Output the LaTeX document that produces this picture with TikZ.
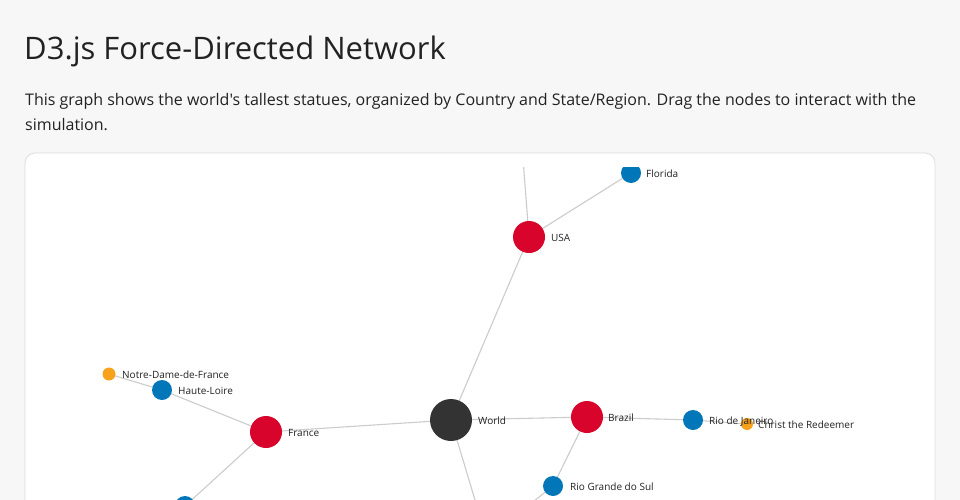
\documentclass[tikz,border=0pt]{standalone}
\usepackage{fontspec}
\setmainfont{Open Sans}[Ligatures=TeXOff]
\definecolor{bg}{HTML}{F7F7F7}
\definecolor{cardline}{HTML}{DDDDDD}
\definecolor{linkc}{HTML}{CCCCCC}
\definecolor{worldc}{HTML}{333333}
\definecolor{countryc}{HTML}{D9042B}
\definecolor{statec}{HTML}{0177BA}
\definecolor{statuec}{HTML}{F6A21A}
\definecolor{txt}{HTML}{222222}
\pgfdeclarelayer{linklayer}
\pgfsetlayers{linklayer,main}
\tikzset{
  link/.style={draw=linkc, line width=1.1pt},
  dot/.style={circle, inner sep=0pt, outer sep=0pt, draw=none},
  worldnode/.style={dot, fill=worldc, minimum size=42pt},
  countrynode/.style={dot, fill=countryc, minimum size=32pt},
  statenode/.style={dot, fill=statec, minimum size=20pt},
  statuenode/.style={dot, fill=statuec, minimum size=13pt},
  lbl/.style={anchor=base west, inner sep=0pt, text=txt, font=\fontsize{10}{12}\selectfont},
  para/.style={anchor=base west, inner sep=0pt, text=txt, font=\fontsize{16}{25}\selectfont},
}
\begin{document}
\begin{tikzpicture}[x=1pt,y=-1pt]
\useasboundingbox (0,0) rectangle (960,500);
\clip (0,0) rectangle (960,500);
\begin{pgfonlayer}{linklayer}
\fill[bg] (0,0) rectangle (960,500);
% card
\draw[cardline, fill=white, rounded corners=10pt, line width=0.8pt] (25,153) rectangle (935,540);
\end{pgfonlayer}
% title and description
\node[anchor=base west, inner sep=0pt, text=txt, font=\fontsize{31}{36}\selectfont] (title) at (24,60) {D3.js Force-Directed Network};
\node[para] (desc1) at (25,106) {This graph shows the world's tallest statues, organized by Country and State/Region. Drag the nodes to interact with the};
\node[para] (desc2) at (25,131) {simulation.};
\begin{scope}
\clip (26,167) rectangle (934,500);
% nodes
\node[worldnode] (world) at (451,420) {};
\node[countrynode] (usa) at (529,237) {};
\node[statenode] (florida) at (631,173) {};
\node[countrynode] (france) at (266,432) {};
\node[statenode] (haute) at (162,390) {};
\node[statuenode] (notre) at (109,374) {};
\node[statenode] (france2) at (185,506) {};
\node[countrynode] (brazil) at (587,417) {};
\node[statenode] (rio) at (693,420) {};
\node[statuenode, minimum size=12pt] (christ) at (747,424) {};
\node[statenode] (rgs) at (553,486) {};
\coordinate (usaup) at (520,120);
\coordinate (worlddown) at (481,520);
\coordinate (rgsdown) at (515,516);
% links (behind the nodes)
\begin{pgfonlayer}{linklayer}
\clip (26,167) rectangle (934,500);
\draw[link] (world) -- (usa);
\draw[link] (usa) -- (florida);
\draw[link] (usa) -- (usaup);
\draw[link] (world) -- (france);
\draw[link] (france) -- (haute);
\draw[link] (haute) -- (notre);
\draw[link] (france) -- (france2);
\draw[link] (world) -- (brazil);
\draw[link] (brazil) -- (rio);
\draw[link] (rio) -- (christ);
\draw[link] (brazil) -- (rgs);
\draw[link] (rgs) -- (rgsdown);
\draw[link] (world) -- (worlddown);
\end{pgfonlayer}
% labels
\node[lbl] (worldl) at (478,424) {World};
\node[lbl] (usal) at (551,241) {USA};
\node[lbl] (floridal) at (646,177) {Florida};
\node[lbl] (francel) at (288,436) {France};
\node[lbl] (hautel) at (178,394) {Haute-Loire};
\node[lbl] (notrel) at (122,378) {Notre-Dame-de-France};
\node[lbl] (brazill) at (608,421) {Brazil};
\node[lbl] (riol) at (709,424) {Rio de Janeiro};
\node[lbl] (christl) at (758,428) {Christ the Redeemer};
\node[lbl] (rgsl) at (570,490) {Rio Grande do Sul};
\end{scope}
\end{tikzpicture}
\end{document}
